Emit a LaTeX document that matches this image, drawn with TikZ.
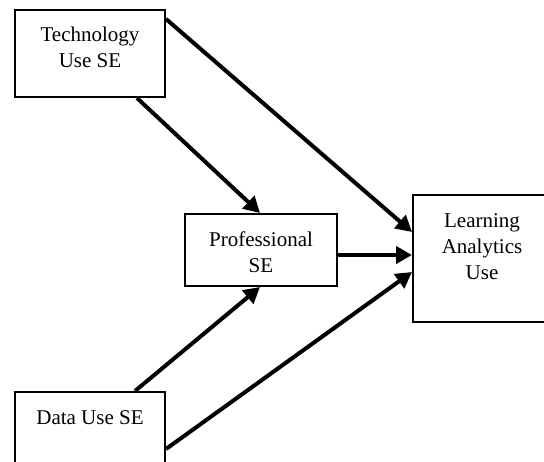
\documentclass[tikz,border=0pt]{standalone}
\usepackage{fontspec}
\setmainfont{Liberation Serif}
\usetikzlibrary{arrows.meta,calc}
\tikzset{
  box/.style={draw=black, line width=2pt, rectangle, inner sep=0pt},
  lbl/.style={anchor=north, inner sep=0pt, align=center, font=\fontsize{21}{26}\selectfont},
  arr/.style={line width=4pt, -{Triangle[length=16pt,width=17pt]}}
}
\begin{document}
\begin{tikzpicture}[x=1pt,y=-1pt]
\useasboundingbox (0,0) rectangle (544,461);
\clip (0,0) rectangle (544,461);
\fill[white] (0,0) rectangle (544,461);
% boxes
\node[box, minimum width=150pt, minimum height=87.5pt] (tech) at (90,53.25) {};
\node[box, minimum width=152pt, minimum height=72pt] (prof) at (261,250) {};
\node[box, minimum width=138pt, minimum height=127pt] (learn) at (482,258.5) {};
\node[box, minimum width=150pt, minimum height=88pt] (data) at (90,436) {};
% labels
\node[lbl] (techt) at ($(tech.north)+(0,15)$) {\strut Technology\\Use SE};
\node[lbl] (proft) at ($(prof.north)+(0,15)$) {\strut Professional\\SE};
\node[lbl] (learnt) at ($(learn.north)+(0,15)$) {\strut Learning\\Analytics\\Use};
\node[lbl] (datat) at ($(data.north)+(0,15)$) {\strut Data Use SE};
% arrows
\draw[arr] ($(tech.north east)+(0,10.5)$) -- ($(learn.north west)+(0,38)$);
\draw[arr] ($(tech.south)+(47,0)$) -- ($(prof.north)+(-1,0)$);
\draw[arr] ($(prof.east)+(0,5)$) -- ($(learn.west)+(0,-3.5)$);
\draw[arr] ($(data.north)+(45,0)$) -- ($(prof.south)+(-1,0)$);
\draw[arr] ($(data.north east)+(0,58)$) -- ($(learn.west)+(0,13.5)$);
\end{tikzpicture}
\end{document}
